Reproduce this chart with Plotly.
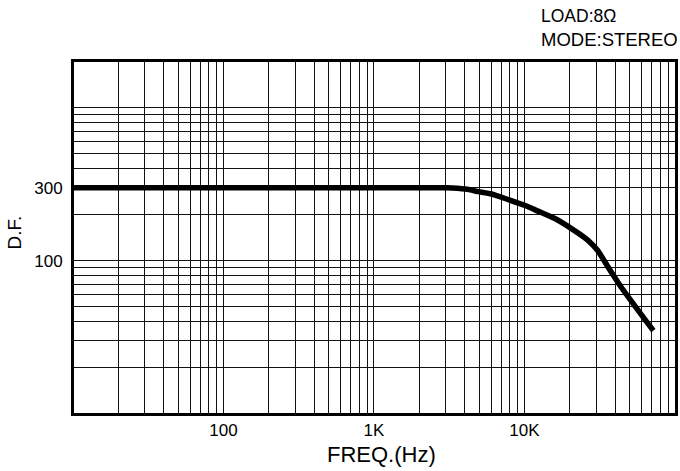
import plotly.graph_objects as go

# ---- data ----
freq_hz = [10, 100, 1000, 2300, 3040, 4060, 4950, 6030, 7800, 10100, 12300,
           15900, 20400, 26300, 30650, 36600, 43700, 53600, 62300, 71800]
damping_factor = [300, 300, 300, 300, 300, 294, 283, 273, 251, 229.5, 211,
                  188.7, 162.8, 136.5, 116.6, 88.3, 67.6, 51.3, 42, 34.9]

x_tick_vals = [100, 1000, 10000]
x_tick_text = ["100", "1K", "10K"]
x_minor_vals = [m * 10 ** e for e in range(1, 5) for m in range(2, 10)]

y_tick_vals = [100, 300]
y_tick_text = ["100", "300"]
y_minor_vals = [m * 10 ** e for e in range(1, 3) for m in range(2, 10)] + [1000]

FONT = "Liberation Sans, Arial, Helvetica, sans-serif"

fig = go.Figure()
fig.add_trace(go.Scatter(
    x=freq_hz, y=damping_factor, mode="lines",
    line=dict(color="black", width=5.5, shape="spline", smoothing=0.5),
    showlegend=False, hoverinfo="skip",
))

grid_col = "#111111"
fig.update_xaxes(
    type="log", range=[1.007, 5.0],
    tickmode="array", tickvals=x_tick_vals, ticktext=x_tick_text,
    showgrid=True, gridcolor=grid_col, gridwidth=1.4,
    minor=dict(tickmode="array", tickvals=x_minor_vals, showgrid=True,
               gridcolor=grid_col, gridwidth=1.4, ticks=""),
    ticks="", ticklabelstandoff=0,
    showline=True, mirror=True, linecolor="black", linewidth=3,
    tickfont=dict(family=FONT, size=17, color="black"),
    zeroline=False,
)
fig.update_yaxes(
    type="log", range=[1.005, 3.299],
    tickmode="array", tickvals=y_tick_vals, ticktext=y_tick_text,
    showgrid=True, gridcolor=grid_col, gridwidth=1.4,
    minor=dict(tickmode="array", tickvals=y_minor_vals, showgrid=True,
               gridcolor=grid_col, gridwidth=1.4, ticks=""),
    ticks="", ticklabelstandoff=5,
    showline=True, mirror=True, linecolor="black", linewidth=3,
    tickfont=dict(family=FONT, size=17, color="black"),
    zeroline=False,
)

fig.update_layout(
    width=680, height=471,
    margin=dict(l=74, r=2, t=62, b=58),
    paper_bgcolor="white", plot_bgcolor="white",
    font=dict(family=FONT, color="black"),
    annotations=[
        dict(text="LOAD:8Ω", xref="paper", yref="paper", x=0.7736, y=1.131,
             xanchor="left", yanchor="middle", showarrow=False,
             font=dict(family=FONT, size=17.5, color="black")),
        dict(text="MODE:STEREO", xref="paper", yref="paper", x=0.7736, y=1.0645,
             xanchor="left", yanchor="middle", showarrow=False,
             font=dict(family=FONT, size=18.5, color="black")),
        dict(text="FREQ.(Hz)", xref="paper", yref="paper", x=0.5124, y=-0.118,
             xanchor="center", yanchor="middle", showarrow=False,
             font=dict(family=FONT, size=22, color="black")),
        dict(text="D.F.", xref="paper", yref="paper", x=-0.099, y=0.5128,
             xanchor="center", yanchor="middle", showarrow=False, textangle=-90,
             font=dict(family=FONT, size=19, color="black")),
    ],
)

fig.write_html(
    "out.html",
    config={"displayModeBar": False},
    post_script="document.body.style.margin='0';document.body.style.overflow='hidden';",
)
